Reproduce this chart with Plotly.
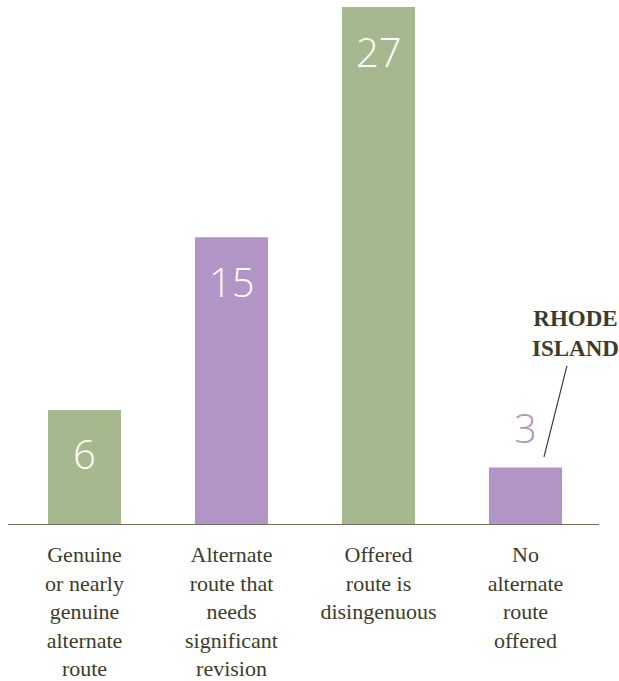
import plotly.graph_objects as go

categories = [
    "Genuine<br>or nearly<br>genuine<br>alternate<br>route",
    "Alternate<br>route that<br>needs<br>significant<br>revision",
    "Offered<br>route is<br>disingenuous",
    "No<br>alternate<br>route<br>offered",
]
values = [6, 15, 27, 3]
bar_colors = ["#a6b98e", "#b295c7", "#a6b98e", "#b295c7"]
callout_text = "RHODE<br>ISLAND"

TEXT = "#3c3c2c"

fig = go.Figure()
fig.add_trace(go.Bar(
    x=categories, y=values,
    marker=dict(color=bar_colors, line=dict(width=0)),
    hoverinfo="skip",
))

annotations = []
for cat, v, col in zip(categories, values, bar_colors):
    inside = v >= 5
    annotations.append(dict(
        x=cat, y=v, xref="x", yref="y",
        text=str(v), showarrow=False,
        yanchor="middle",
        yshift=-44 if inside else 40,
        font=dict(family="Open Sans, Lato, sans-serif", size=40,
                  color="white" if inside else col, weight=300),
    ))

annotations.append(dict(
    x=categories[3], y=values[3], xref="x", yref="y",
    xshift=18.5, yshift=10.5,
    text="<b>" + callout_text + "</b>",
    showarrow=True, arrowhead=0, arrowwidth=1.2, arrowcolor=TEXT,
    ax=31, ay=-123, standoff=0, borderpad=4,
    align="center",
    font=dict(family="Liberation Serif", size=23, color=TEXT),
))

fig.update_layout(
    width=619, height=681,
    margin=dict(l=11, r=20, t=7, b=156),
    paper_bgcolor="white", plot_bgcolor="white",
    bargap=0.503,
    showlegend=False,
    annotations=annotations,
    xaxis=dict(
        range=[-0.5, 3.5], autorange=False, automargin=False,
        showgrid=False, zeroline=False, showline=False,
        ticks="", ticklabelstandoff=14,
        tickfont=dict(family="Liberation Serif", size=22, color=TEXT),
        fixedrange=True,
    ),
    yaxis=dict(
        range=[0, 27], autorange=False, automargin=False,
        showgrid=False, zeroline=False, showline=False,
        showticklabels=False, ticks="", fixedrange=True,
    ),
    shapes=[dict(
        type="line", xref="paper", yref="y",
        x0=-3 / 588, x1=1.0, y0=0, y1=0,
        line=dict(color="#6f6f5a", width=2),
    )],
)

fig.write_html(
    "out.html",
    config={"displayModeBar": False},
    post_script="document.body.style.margin='0';"
                "document.documentElement.style.overflow='hidden';"
                "document.body.style.overflow='hidden';",
)
